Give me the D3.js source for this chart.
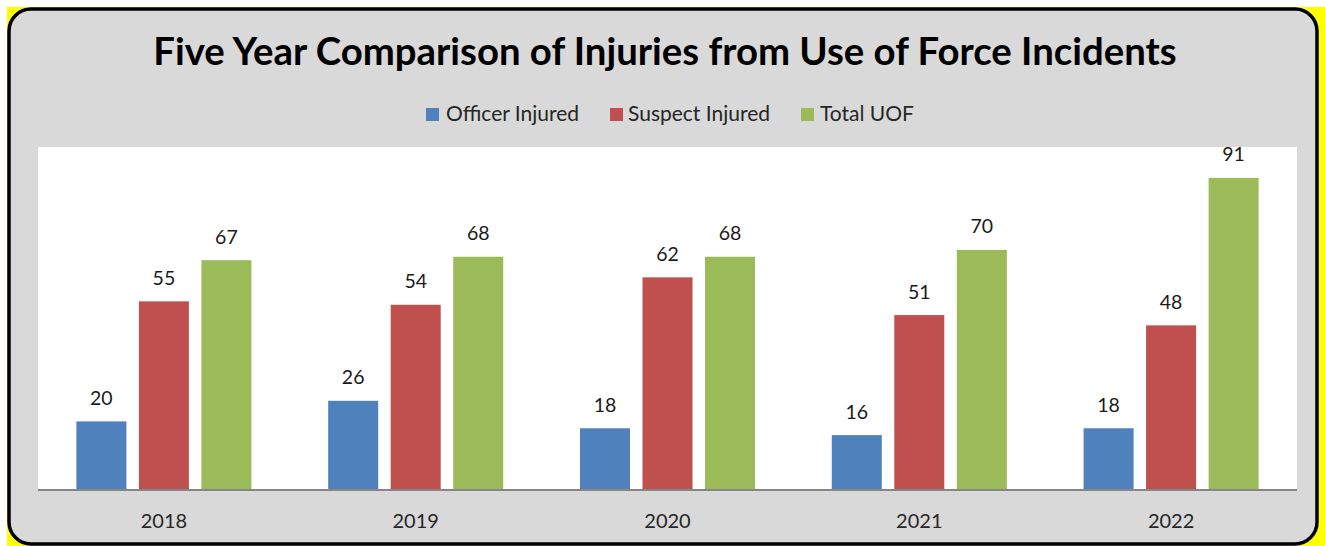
<!DOCTYPE html>
<html>
<head>
<meta charset="utf-8">
<script src="https://cdn.jsdelivr.net/npm/d3@7"></script>
<style>
  html, body { margin: 0; padding: 0; background: #fff; }
  svg { display: block; }
</style>
</head>
<body>
<div id="chart"></div>
<script>
const years = ["2018", "2019", "2020", "2021", "2022"];
const seriesNames = ["Officer Injured", "Suspect Injured", "Total UOF"];
const officerInjured = [20, 26, 18, 16, 18];
const suspectInjured = [55, 54, 62, 51, 48];
const totalUOF = [67, 68, 68, 70, 91];
const seriesValues = [officerInjured, suspectInjured, totalUOF];
const colors = ["#4F81BD", "#C0504D", "#9BBB59"];

const width = 1325, height = 546;
const font = "Lato, 'Open Sans', sans-serif";
const plot = { left: 38, right: 1297, top: 147, bottom: 490 };

const svg = d3.select("#chart").append("svg")
  .attr("width", width)
  .attr("height", height);

// frame: yellow behind, rounded grey panel with black border
svg.append("rect")
  .attr("x", 7).attr("y", 7)
  .attr("width", 1318).attr("height", 539)
  .attr("fill", "#FFFF00");
svg.append("rect")
  .attr("x", 9).attr("y", 9)
  .attr("width", 1308).attr("height", 535)
  .attr("rx", 22).attr("ry", 22)
  .attr("fill", "#D9D9D9")
  .attr("stroke", "#000")
  .attr("stroke-width", 3.5);

// plot area
svg.append("rect")
  .attr("x", plot.left).attr("y", plot.top)
  .attr("width", plot.right - plot.left)
  .attr("height", plot.bottom - plot.top)
  .attr("fill", "#fff");

// title
const title = svg.append("text")
  .attr("x", 665).attr("y", 65)
  .attr("text-anchor", "middle")
  .attr("font-family", font)
  .attr("font-weight", "bold")
  .attr("font-size", 35)
  .attr("fill", "#000")
  .text("Five Year Comparison of Injuries from Use of Force Incidents");
// fit title to the width it takes in the original
const tw = title.node().getComputedTextLength();
title.attr("font-size", 35 * 1024 / tw);

// scales
const x0 = d3.scaleBand()
  .domain(years)
  .range([plot.left, plot.right])
  .padding(0);

const x1 = d3.scaleBand()
  .domain(seriesNames)
  .range([0, x0.bandwidth()])
  .paddingInner(0.2)
  .paddingOuter(0.614);

const y = d3.scaleLinear()
  .domain([0, 100])
  .range([plot.bottom, plot.top]);

// bars
const groups = svg.append("g")
  .selectAll("g")
  .data(years)
  .join("g")
  .attr("transform", d => `translate(${x0(d)},0)`);

const cells = groups.selectAll("g.cell")
  .data((d, i) => seriesNames.map((s, j) => ({ series: s, idx: j, value: seriesValues[j][i] })))
  .join("g")
  .attr("class", "cell");

cells.append("rect")
  .attr("x", d => x1(d.series))
  .attr("y", d => y(d.value))
  .attr("width", x1.bandwidth())
  .attr("height", d => y(0) - y(d.value))
  .attr("fill", d => colors[d.idx]);

cells.append("text")
  .attr("x", d => x1(d.series) + x1.bandwidth() / 2)
  .attr("y", d => y(d.value) - 16.5)
  .attr("text-anchor", "middle")
  .attr("font-family", font)
  .attr("font-size", 19.5)
  .attr("fill", "#1a1a1a")
  .text(d => d.value);

// x axis
const xAxis = svg.append("g")
  .attr("transform", `translate(0,${plot.bottom})`)
  .call(d3.axisBottom(x0).tickSize(0).tickPadding(0));
xAxis.select(".domain").attr("stroke", "#868686").attr("stroke-width", 2)
  .attr("d", `M${plot.left},0H${plot.right}`);
xAxis.selectAll("text")
  .attr("font-family", font)
  .attr("font-size", 20)
  .attr("fill", "#262626")
  .attr("dy", null)
  .attr("y", 38);

// legend
const legendItems = [
  { name: seriesNames[0], sx: 426, tx: 446 },
  { name: seriesNames[1], sx: 610, tx: 628 },
  { name: seriesNames[2], sx: 801, tx: 820 }
];
const legend = svg.append("g");
legendItems.forEach((d, i) => {
  legend.append("rect")
    .attr("x", d.sx).attr("y", 108)
    .attr("width", 13).attr("height", 13)
    .attr("fill", colors[i]);
  legend.append("text")
    .attr("x", d.tx).attr("y", 121)
    .attr("font-family", font)
    .attr("font-size", 21)
    .attr("fill", "#262626")
    .text(d.name);
});
</script>
</body>
</html>
